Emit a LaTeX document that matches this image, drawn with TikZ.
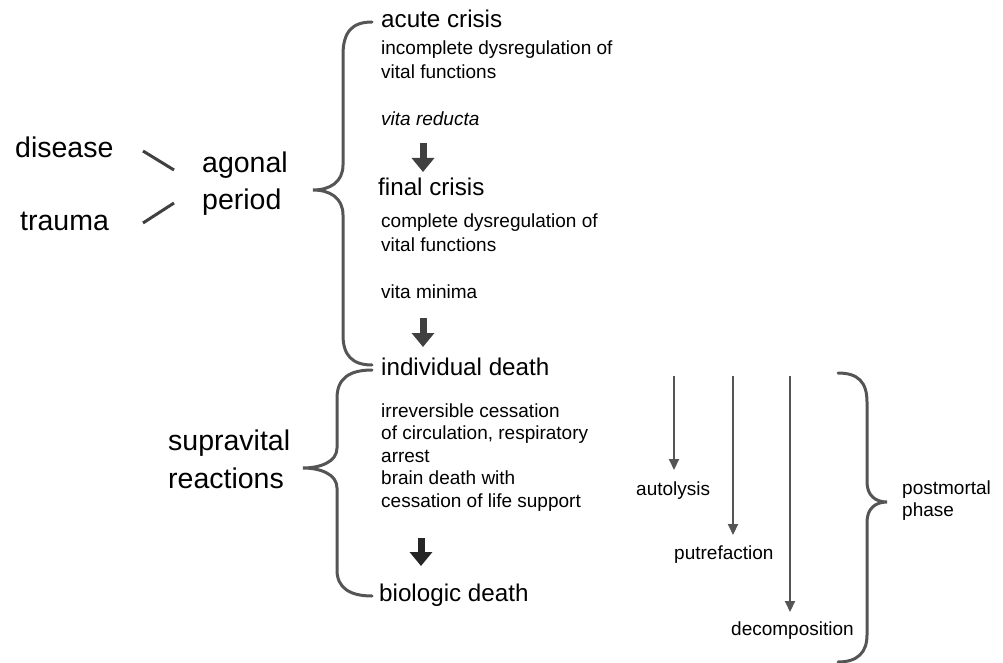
\documentclass[tikz,border=0pt]{standalone}
\usepackage{fontspec}
\setmainfont{Liberation Sans}
\usetikzlibrary{arrows.meta}
\definecolor{braceGray}{HTML}{555555}
\definecolor{arrowGray}{HTML}{404040}
\tikzset{
	big/.style={font=\fontsize{28.5}{36}\selectfont, inner sep=0pt, anchor=base west},
	mid/.style={font=\fontsize{24.2}{30}\selectfont, inner sep=0pt, anchor=base west},
	small/.style={font=\fontsize{19}{24}\selectfont, inner sep=0pt, anchor=base west, align=left},
	brace/.style={draw=braceGray, line width=3pt, line cap=round},
	link/.style={draw=arrowGray, line width=3pt},
	stepArrow/.style={draw=arrowGray, line width=7pt, -{Triangle[width=22pt, length=14pt]}},
	decayArrow/.style={draw=braceGray, line width=2pt, -{Triangle[width=10pt, length=11pt]}}
}
\begin{document}
\begin{tikzpicture}[x=1pt, y=-1pt]
	\useasboundingbox (0,0) rectangle (1003,663);
	% causes and agonal period
	\node[big] (disease) at (15,158) {disease};
	\node[big] (trauma) at (20,230) {trauma};
	\node[big] (agonal) at (202,173) {agonal};
	\node[big] (period) at (202,209) {period};
	\coordinate (d1) at (143,151);
	\coordinate (d2) at (174,170);
	\coordinate (t1) at (143,223);
	\coordinate (t2) at (174,203);
	\draw[link] (d1) -- (d2);
	\draw[link] (t1) -- (t2);

	% stages of dying (multi-line nodes sit on their last line)
	\node[mid] (acute) at (381,28) {acute crisis};
	\node[small] (acuteTxt) at (381,79) {incomplete dysregulation of\\vital functions};
	\node[small, font=\fontsize{19}{24}\selectfont\itshape] (reducta) at (381,126) {vita reducta};
	\node[mid] (final) at (378,196) {final crisis};
	\node[small] (finalTxt) at (381,251) {complete dysregulation of\\vital functions};
	\node[small] (minima) at (381,298) {vita minima};
	\node[mid] (indiv) at (381,375) {individual death};
	\node[small, font=\fontsize{19}{22.5}\selectfont] (indivTxt) at (381,507) {irreversible cessation\\of circulation, respiratory\\arrest\\brain death with\\cessation of life support};
	\node[mid] (bio) at (379,601) {biologic death};
	\node[big] (supra) at (168,450) {supravital};
	\node[big] (reac) at (168,488) {reactions};

	\coordinate (a1) at (423,143);
	\coordinate (a2) at (423,318);
	\coordinate (a3) at (421,538);
	\draw[stepArrow] (a1) -- ++(0,29);
	\draw[stepArrow] (a2) -- ++(0,29);
	\draw[stepArrow, draw=black!85] (a3) -- ++(0,28);

	% braces
	\draw[brace] (372,22) .. controls (352,22) and (343,32) .. (343,55) -- (343,165)
		.. controls (343,182) and (330,190) .. (313,190)
		.. controls (330,190) and (343,198) .. (343,215) -- (343,335)
		.. controls (343,355) and (352,365) .. (372,365);	% agonal period
	\draw[brace] (372,370) .. controls (350,370) and (337,378) .. (337,398) -- (337,448)
		.. controls (337,462) and (320,468) .. (303,468)
		.. controls (320,468) and (337,474) .. (337,488) -- (337,570)
		.. controls (337,588) and (350,596) .. (372,596);	% supravital reactions
	\draw[brace] (838,373) .. controls (858,373) and (867,382) .. (867,402) -- (867,482)
		.. controls (867,495) and (875,502) .. (887,502)
		.. controls (875,502) and (867,509) .. (867,522) -- (867,635)
		.. controls (867,652) and (858,662) .. (838,662);	% postmortal phase

	% postmortal changes
	\node[small] (autolysis) at (636,495) {autolysis};
	\node[small] (putre) at (674,559) {putrefaction};
	\node[small] (decomp) at (731,635) {decomposition};
	\node[small, font=\fontsize{19}{22}\selectfont] (postmortal) at (902,516) {postmortal\\phase};
	\coordinate (p1) at (674,376);
	\coordinate (p2) at (733,376);
	\coordinate (p3) at (790,376);
	\draw[decayArrow] (p1) -- (674,470);
	\draw[decayArrow] (p2) -- (733,535);
	\draw[decayArrow] (p3) -- (790,612);
\end{tikzpicture}
\end{document}
